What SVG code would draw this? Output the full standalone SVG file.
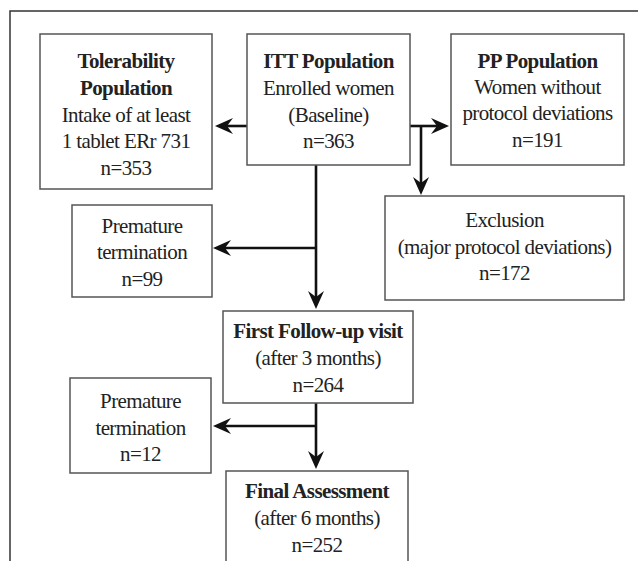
<svg xmlns="http://www.w3.org/2000/svg" width="638" height="561" viewBox="0 0 638 561">
<style>
.box{fill:#fff;stroke:#555;stroke-width:1.5}
.t{font-family:"Liberation Serif","Times New Roman",serif;font-size:21px;letter-spacing:-0.6px;fill:#222;text-anchor:middle}
.b{font-weight:bold}
.c{fill:none;stroke:#111;stroke-width:2.6}
</style>
<defs>
<marker id="ah" viewBox="0 0 18 16" refX="11" refY="8" markerWidth="18" markerHeight="16" markerUnits="userSpaceOnUse" orient="auto">
<path d="M0,0 L18,8 L0,16 L6,8 Z" fill="#111"/>
</marker>
</defs>
<rect width="638" height="561" fill="#fff"/>
<path d="M10,561 L10,11 L638,11" fill="none" stroke="#333" stroke-width="1.5"/>
<g id="connectors">
<path class="c" d="M247,126 L222,126" marker-end="url(#ah)"/>
<path class="c" d="M410,126 L442,126" marker-end="url(#ah)"/>
<path class="c" d="M421,126 L421,188" marker-end="url(#ah)"/>
<path class="c" d="M316,165 L316,302" marker-end="url(#ah)"/>
<path class="c" d="M316,248 L220,248" marker-end="url(#ah)"/>
<path class="c" d="M316,403 L316,462" marker-end="url(#ah)"/>
<path class="c" d="M316,426 L220,426" marker-end="url(#ah)"/>
</g>
<g id="tolerability">
<rect class="box" x="40" y="34" width="172" height="155"/>
<text class="t b" x="126" y="68">Tolerability</text>
<text class="t b" x="126" y="95">Population</text>
<text class="t" x="126" y="122">Intake of at least</text>
<text class="t" x="126" y="148">1 tablet ERr 731</text>
<text class="t" x="126" y="175">n=353</text>
</g>
<g id="itt">
<rect class="box" x="247" y="34" width="163" height="131"/>
<text class="t b" x="328.5" y="68">ITT Population</text>
<text class="t" x="328.5" y="95">Enrolled women</text>
<text class="t" x="328.5" y="122">(Baseline)</text>
<text class="t" x="328.5" y="148">n=363</text>
</g>
<g id="pp">
<rect class="box" x="451" y="34" width="173" height="131"/>
<text class="t b" x="537.5" y="68">PP Population</text>
<text class="t" x="537.5" y="94">Women without</text>
<text class="t" x="537.5" y="120">protocol deviations</text>
<text class="t" x="537.5" y="147">n=191</text>
</g>
<g id="exclusion">
<rect class="box" x="385" y="196" width="239" height="104"/>
<text class="t" x="504.5" y="227">Exclusion</text>
<text class="t" x="504.5" y="254">(major protocol deviations)</text>
<text class="t" x="504.5" y="280">n=172</text>
</g>
<g id="premature1">
<rect class="box" x="72" y="205" width="140" height="92"/>
<text class="t" x="142" y="233">Premature</text>
<text class="t" x="142" y="259">termination</text>
<text class="t" x="142" y="286">n=99</text>
</g>
<g id="followup">
<rect class="box" x="223" y="311" width="190" height="92"/>
<text class="t b" x="318" y="338">First Follow-up visit</text>
<text class="t" x="318" y="365">(after 3 months)</text>
<text class="t" x="318" y="392">n=264</text>
</g>
<g id="premature2">
<rect class="box" x="70" y="378" width="141" height="95"/>
<text class="t" x="140.5" y="408">Premature</text>
<text class="t" x="140.5" y="435">termination</text>
<text class="t" x="140.5" y="461">n=12</text>
</g>
<g id="final">
<rect class="box" x="226" y="471" width="182" height="110"/>
<text class="t b" x="317" y="498">Final Assessment</text>
<text class="t" x="317" y="525">(after 6 months)</text>
<text class="t" x="317" y="552">n=252</text>
</g>
</svg>
